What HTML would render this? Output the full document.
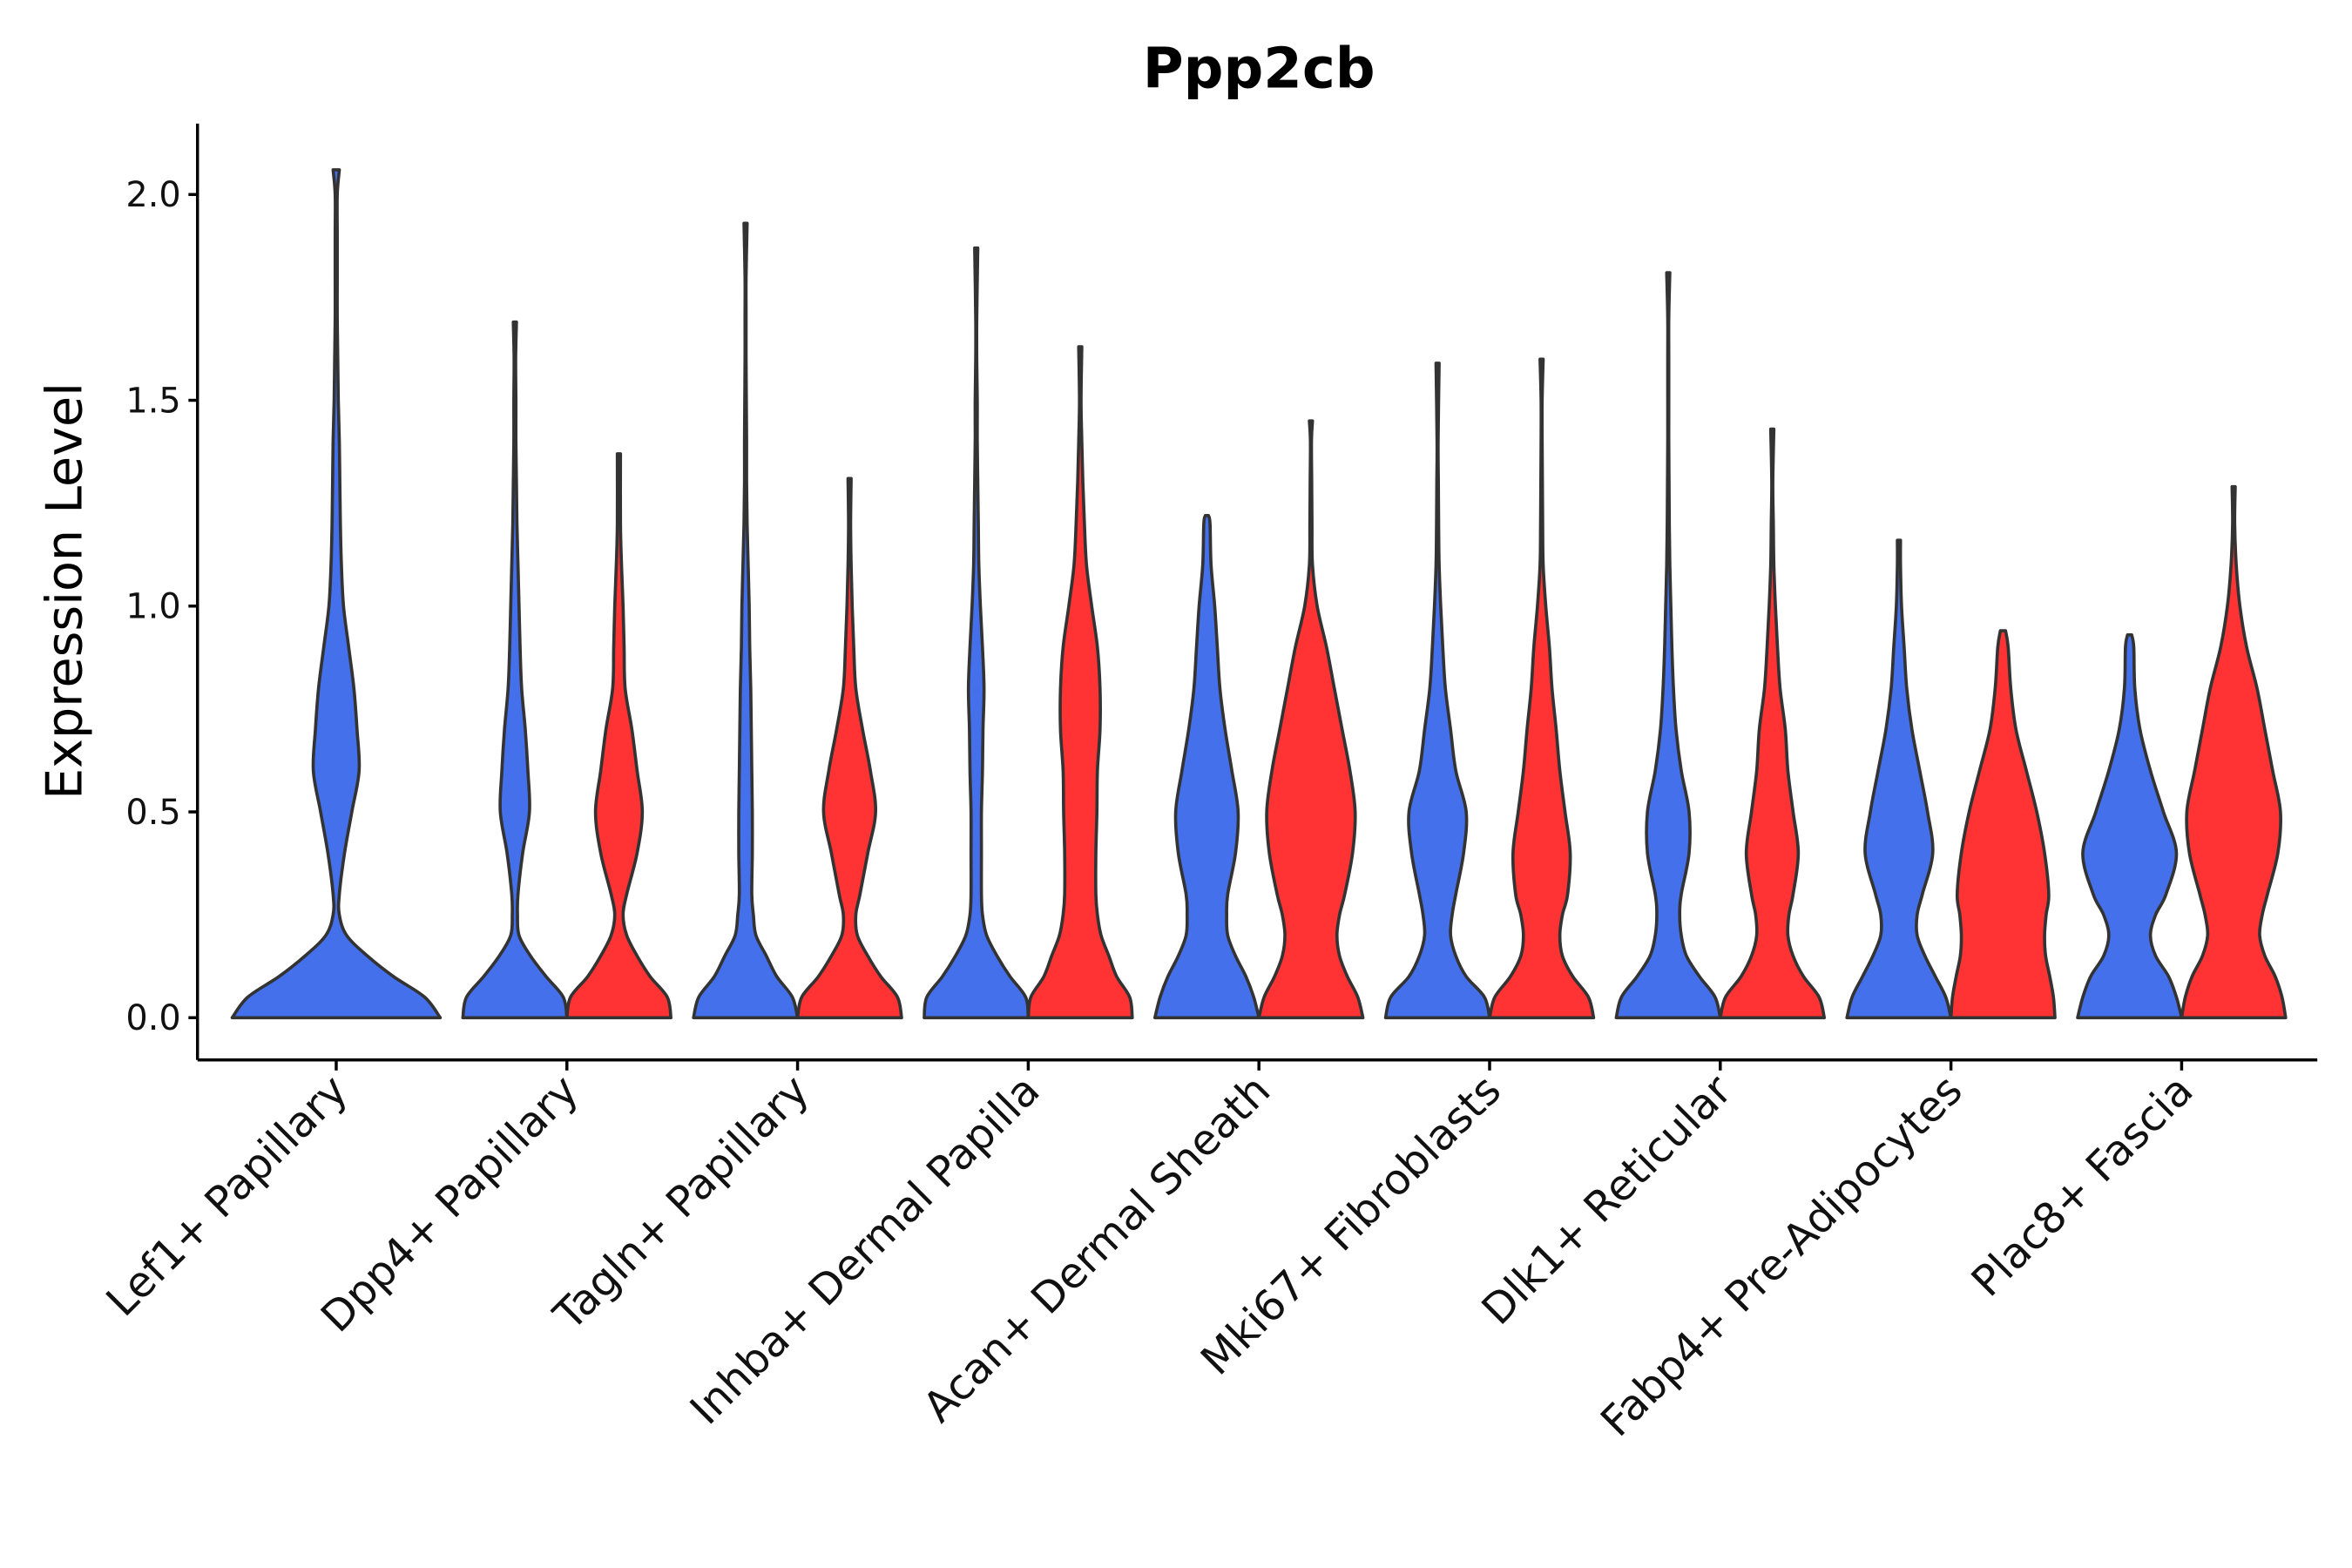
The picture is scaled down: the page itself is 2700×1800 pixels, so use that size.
<!DOCTYPE html>
<html><head><meta charset="utf-8"><style>
html,body{margin:0;padding:0;background:#fff;}
svg{display:block;font-family:"DejaVu Sans","Liberation Sans",sans-serif;}
</style></head><body>
<svg id="chart" width="2700" height="1800" viewBox="0 0 1560 1040" xmlns="http://www.w3.org/2000/svg">
<rect width="1560" height="1040" fill="#fff"/>
<text x="835" y="58" text-anchor="middle" font-size="37" font-weight="bold">Ppp2cb</text>
<text transform="translate(54,392) rotate(-90)" text-anchor="middle" font-size="33">Expression Level</text>
<g id="violins"></g>
<g id="axes"></g>
</svg>
<script>
const categories = ["Lef1+ Papillary","Dpp4+ Papillary","Tagln+ Papillary","Inhba+ Dermal Papilla","Acan+ Dermal Sheath","Mki67+ Fibroblasts","Dlk1+ Reticular","Fabp4+ Pre-Adipocytes","Plac8+ Fascia"];
const yTicks = [0, 0.5, 1.0, 1.5, 2.0];
const yTickLabels = ["0.0","0.5","1.0","1.5","2.0"];
const violinCategory = [0,1,1,2,2,3,3,4,4,5,5,6,6,7,7,8,8];
const violinGroup = ["B","B","R","B","R","B","R","B","R","B","R","B","R","B","R","B","R"];
const violinMax = [2.06,1.69,1.37,1.93,1.31,1.87,1.63,1.22,1.45,1.59,1.60,1.81,1.43,1.16,0.94,0.93,1.29];
// density at y = 0, 0.1, 0.2, ...
const violinDensity = [
 [1,.55,.1,.03,.08,.15,.22,.2,.17,.12,.07,.05,.04,.035,.03,.02,.015,.01,.01,.01,.01],
 [1,.6,.08,.06,.15,.28,.25,.2,.13,.1,.08,.06,.04,.03,.02,.02,.015],
 [1,.6,.15,.15,.35,.45,.35,.25,.12,.1,.08,.05,.03],
 [1,.6,.2,.12,.13,.13,.12,.11,.1,.08,.07,.05,.03,.02,.02,.015,.01,.01,.01],
 [1,.6,.15,.2,.35,.5,.4,.25,.12,.08,.05,.03,.02],
 [1,.65,.2,.1,.1,.1,.12,.13,.15,.12,.08,.05,.04,.03,.02,.02,.01,.01],
 [1,.7,.4,.3,.3,.32,.33,.38,.38,.33,.22,.12,.08,.05,.03,.015],
 [1,.75,.4,.4,.55,.6,.48,.35,.25,.2,.15,.08,.06],
 [1,.7,.5,.65,.8,.85,.75,.6,.45,.3,.12,.03,.02,.015,.01],
 [1,.55,.25,.35,.5,.55,.35,.25,.15,.1,.06,.03,.02,.015,.01],
 [1,.6,.35,.5,.55,.45,.35,.28,.2,.15,.08,.03,.02,.015,.01,.01],
 [1,.6,.25,.25,.4,.4,.25,.15,.1,.07,.05,.03,.02,.015,.01,.01,.01,.01],
 [1,.6,.3,.4,.5,.4,.3,.25,.15,.1,.06,.03,.02,.01],
 [1,.7,.35,.45,.65,.55,.4,.25,.15,.1,.05,.03],
 [1,.9,.8,.88,.8,.65,.45,.25,.15,.1],
 [1,.75,.4,.7,.9,.65,.4,.2,.1,.08],
 [1,.8,.5,.65,.85,.9,.75,.6,.45,.25,.12,.05,.02]
];
// density at y = 0.05, 0.15, 0.25
const violinLowDensity = [
 [.85,.3,.03],[.93,.3,.05],[.93,.35,.08],[.9,.4,.15],[.92,.35,.12],[.95,.4,.12],[.95,.55,.33],
 [.9,.55,.38],[.9,.55,.55],[.9,.35,.28],[.9,.4,.4],[.9,.35,.22],[.9,.4,.32],
 [.9,.5,.35],[.97,.82,.83],[.9,.5,.5],[.93,.6,.55]
];
const lowLevels = [0.05, 0.15, 0.25];
const groupColor = {B:"#4570ec", R:"#ff3333"};

const NS = "http://www.w3.org/2000/svg";
const plotLeft = 131, plotRight = 1537, plotBottom = 703;
const xStep = 153, x0 = 223;
const yScale = v => 675 - v * 273;
const xScale = i => x0 + i * xStep;

function smoothPath(pts){
  let d = "";
  for (let i = 0; i < pts.length - 1; i++){
    const p0 = pts[Math.max(i-1,0)], p1 = pts[i], p2 = pts[i+1], p3 = pts[Math.min(i+2,pts.length-1)];
    const c1 = [p1[0] + (p2[0]-p0[0])/6, p1[1] + (p2[1]-p0[1])/6];
    const c2 = [p2[0] - (p3[0]-p1[0])/6, p2[1] - (p3[1]-p1[1])/6];
    d += ` C${c1[0].toFixed(2)},${c1[1].toFixed(2)} ${c2[0].toFixed(2)},${c2[1].toFixed(2)} ${p2[0].toFixed(2)},${p2[1].toFixed(2)}`;
  }
  return d;
}

const gV = document.getElementById("violins");
violinDensity.forEach((dens, k) => {
  const ci = violinCategory[k];
  const paired = violinCategory.filter(c => c === ci).length > 1;
  const cx = paired ? xScale(ci) + (violinGroup[k] === "B" ? -34.5 : 34.5) : xScale(ci);
  const hw = paired ? 34.5 : 69;
  const mx = violinMax[k];
  let prof = [];
  dens.forEach((w, j) => { const y = j * 0.1; if (y < mx) prof.push([y, w]); });
  violinLowDensity[k].forEach((w, j) => { if (lowLevels[j] < mx) prof.push([lowLevels[j], w]); });
  prof.sort((a, b) => a[0] - b[0]);
  const tip = Math.max(0.03, prof[prof.length-1][1] * 0.5);
  prof.push([mx, tip]);
  const right = prof.map(p => [cx + p[1]*hw, yScale(p[0])]);
  const left = prof.slice().reverse().map(p => [cx - p[1]*hw, yScale(p[0])]);
  let d = `M${cx - hw},${yScale(0)} L${right[0][0]},${right[0][1]}` + smoothPath(right);
  d += ` L${left[0][0]},${left[0][1]}` + smoothPath(left) + " Z";
  const path = document.createElementNS(NS, "path");
  path.setAttribute("d", d);
  path.setAttribute("fill", groupColor[violinGroup[k]]);
  path.setAttribute("stroke", "#333");
  path.setAttribute("stroke-width", "2.1");
  path.setAttribute("stroke-linejoin", "round");
  
  
  gV.appendChild(path);
});

const gA = document.getElementById("axes");
function mk(tag, attrs){ const e = document.createElementNS(NS, tag); for (const a in attrs) e.setAttribute(a, attrs[a]); gA.appendChild(e); return e; }
const yAxis = mk("line", {x1: plotLeft, y1: 82, x2: plotLeft, y2: plotBottom, stroke: "#000", "stroke-width": 2});


const xAxis = mk("line", {x1: plotLeft, y1: plotBottom, x2: plotRight, y2: plotBottom, stroke: "#000", "stroke-width": 2});


yTicks.forEach((v, i) => {
  const t = mk("line", {x1: plotLeft - 6, y1: yScale(v), x2: plotLeft, y2: yScale(v), stroke: "#000", "stroke-width": 2});
  
  
  const l = mk("text", {x: plotLeft - 11, y: yScale(v) + 8, "text-anchor": "end", "font-size": "23", fill: "#111"});
  l.textContent = yTickLabels[i];
  
  
});
categories.forEach((c, i) => {
  const x = xScale(i);
  const t = mk("line", {x1: x, y1: plotBottom, x2: x, y2: plotBottom + 7, stroke: "#000", "stroke-width": 2});
  
  
  const l = mk("text", {transform: `translate(${x + 9},${plotBottom + 22}) rotate(-45)`, "text-anchor": "end", "font-size": "28", fill: "#111"});
  l.textContent = c;
  
  
});
</script>
</body></html>
